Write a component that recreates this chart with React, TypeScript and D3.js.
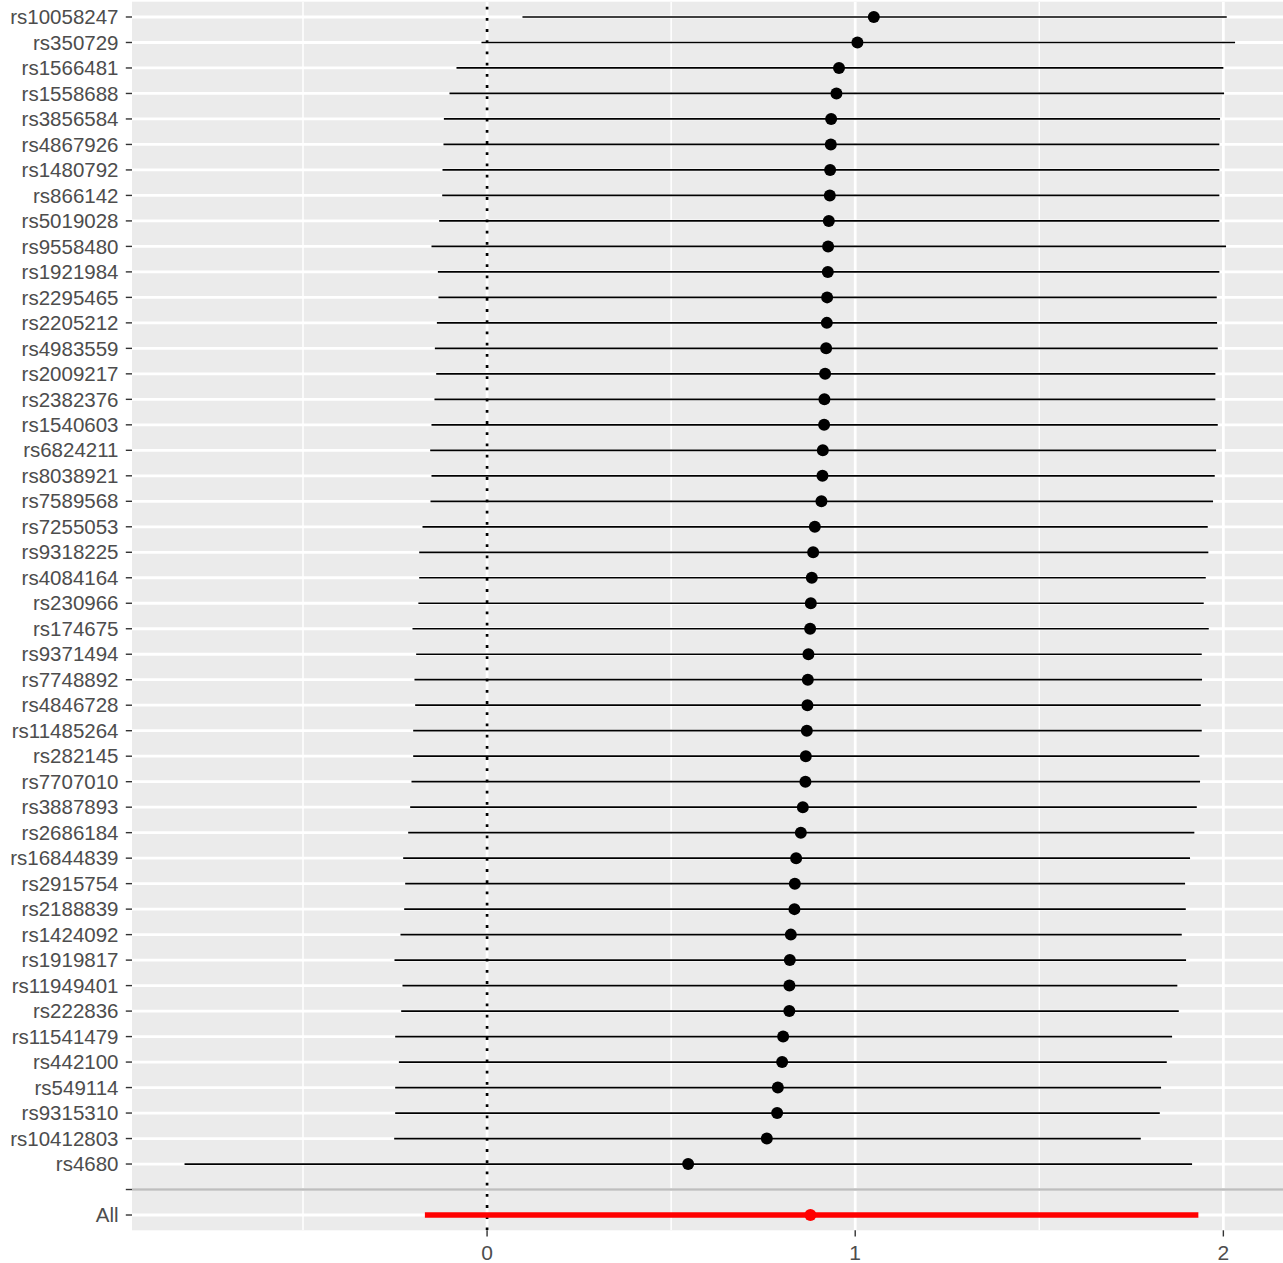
import React from "react";
import * as d3 from "d3";

const snps: string[] = [
  "rs10058247","rs350729","rs1566481","rs1558688","rs3856584","rs4867926","rs1480792","rs866142",
  "rs5019028","rs9558480","rs1921984","rs2295465","rs2205212","rs4983559","rs2009217","rs2382376",
  "rs1540603","rs6824211","rs8038921","rs7589568","rs7255053","rs9318225","rs4084164","rs230966",
  "rs174675","rs9371494","rs7748892","rs4846728","rs11485264","rs282145","rs7707010","rs3887893",
  "rs2686184","rs16844839","rs2915754","rs2188839","rs1424092","rs1919817","rs11949401","rs222836",
  "rs11541479","rs442100","rs549114","rs9315310","rs10412803","rs4680",
];

const estimates: number[] = [
  1.0505, 1.006, 0.956, 0.949, 0.9346, 0.9337, 0.9318, 0.931,
  0.9283, 0.9264, 0.9256, 0.9237, 0.9229, 0.921, 0.9182, 0.9163,
  0.9155, 0.912, 0.911, 0.9082, 0.8903, 0.8857, 0.8821, 0.8794,
  0.8775, 0.8729, 0.8713, 0.8702, 0.8686, 0.8658, 0.8647, 0.8577,
  0.8523, 0.8395, 0.836, 0.8349, 0.8251, 0.8224, 0.8213, 0.821,
  0.8042, 0.8015, 0.7898, 0.7879, 0.7599, 0.5462,
];

const lowers: number[] = [
  0.0961, -0.0152, -0.0831, -0.1021, -0.1173, -0.1184, -0.1211, -0.1219,
  -0.1301, -0.151, -0.1336, -0.132, -0.1363, -0.1418, -0.1382, -0.1429,
  -0.151, -0.1545, -0.151, -0.1537, -0.1754, -0.1844, -0.1844, -0.1866,
  -0.2026, -0.1926, -0.1972, -0.1953, -0.2007, -0.2007, -0.2053, -0.2089,
  -0.2143, -0.2279, -0.2224, -0.2251, -0.2352, -0.2515, -0.2298, -0.2333,
  -0.2496, -0.2395, -0.2496, -0.2496, -0.2523, -0.8218,
];

const uppers: number[] = [
  2.0092, 2.0318, 2.0, 2.0019, 1.991, 1.9891, 1.9891, 1.9891,
  1.989, 2.0073, 1.9891, 1.982, 1.9829, 1.9848, 1.9783, 1.9783,
  1.9848, 1.9802, 1.9766, 1.972, 1.9576, 1.9592, 1.9522, 1.9467,
  1.9603, 1.9413, 1.9421, 1.9386, 1.9413, 1.9348, 1.9367, 1.9278,
  1.9212, 1.9095, 1.896, 1.8979, 1.887, 1.8987, 1.875, 1.8789,
  1.8607, 1.8463, 1.8308, 1.8273, 1.7757, 1.915,
];

const overallLabel = "All";
const overallEstimate = 0.8783;
const overallLower = -0.1689;
const overallUpper = 1.9321;

const xTicks: number[] = [0, 1, 2];
const xMinor: number[] = [-0.5, 0.5, 1.5];

const W = 1283;
const H = 1263;
const panelLeft = 132;
const panelRight = 1287.6;
const panelTop = 1.7;
const panelBottom = 1230.3;

export default function App() {
  const categories = [...snps, " ", overallLabel];
  const x = d3.scaleLinear().domain([-0.9645, 2.1745]).range([panelLeft, panelRight]);
  const y = d3.scalePoint<string>().domain(categories).range([panelTop, panelBottom]).padding(0.6);
  const blankY = y(" ") as number;
  const font = "'Liberation Sans', Arial, Helvetica, sans-serif";
  const rows = snps.map((s, i) => ({ s, b: estimates[i], lo: lowers[i], hi: uppers[i] }));

  return (
    <svg width={W} height={H} style={{ position: "absolute", left: 0, top: 0, display: "block" }}>
      <defs>
        <clipPath id="panel">
          <rect x={panelLeft} y={panelTop} width={panelRight - panelLeft} height={panelBottom - panelTop} />
        </clipPath>
      </defs>
      <rect x={0} y={0} width={W} height={H} fill="#ffffff" />
      <rect x={panelLeft} y={panelTop} width={panelRight - panelLeft} height={panelBottom - panelTop} fill="#EBEBEB" />
      <g clipPath="url(#panel)">
        {xMinor.map((t) => (
          <line key={"mn" + t} x1={x(t)} x2={x(t)} y1={panelTop} y2={panelBottom} stroke="#ffffff" strokeWidth={1.5} />
        ))}
        {xTicks.map((t) => (
          <line key={"mj" + t} x1={x(t)} x2={x(t)} y1={panelTop} y2={panelBottom} stroke="#ffffff" strokeWidth={2.8} />
        ))}
        {categories.map((c) => (
          <line key={"h" + c} x1={panelLeft} x2={panelRight} y1={y(c)} y2={y(c)} stroke="#ffffff" strokeWidth={2.8} />
        ))}
        <line x1={panelLeft} x2={panelRight} y1={blankY} y2={blankY} stroke="#BEBEBE" strokeWidth={2.6} />
        <line x1={x(0)} x2={x(0)} y1={panelBottom} y2={panelTop} stroke="#000000" strokeWidth={2.7} strokeDasharray="2.8 8.4" />
        {rows.map((r) => (
          <line key={"l" + r.s} x1={x(r.lo)} x2={x(r.hi)} y1={y(r.s)} y2={y(r.s)} stroke="#000000" strokeWidth={1.7} />
        ))}
        {rows.map((r) => (
          <circle key={"p" + r.s} cx={x(r.b)} cy={y(r.s)} r={6} fill="#000000" />
        ))}
        <line x1={x(overallLower)} x2={x(overallUpper)} y1={y(overallLabel)} y2={y(overallLabel)} stroke="#FF0000" strokeWidth={5.5} />
        <circle cx={x(overallEstimate)} cy={y(overallLabel)} r={6} fill="#FF0000" />
      </g>
      {categories.map((c) => (
        <g key={"yt" + c}>
          <line x1={panelLeft - 6.2} x2={panelLeft} y1={y(c)} y2={y(c)} stroke="#333333" strokeWidth={1.4} />
          <text x={118.5} y={y(c)} dy="0.35em" textAnchor="end" fontFamily={font} fontSize={20.5} fill="#4D4D4D">
            {c.trim()}
          </text>
        </g>
      ))}
      {xTicks.map((t) => (
        <g key={"xt" + t}>
          <line x1={x(t)} x2={x(t)} y1={panelBottom} y2={panelBottom + 6.2} stroke="#333333" strokeWidth={1.4} />
          <text x={x(t)} y={1260} textAnchor="middle" fontFamily={font} fontSize={21} fill="#4D4D4D">
            {d3.format("d")(t)}
          </text>
        </g>
      ))}
    </svg>
  );
}
